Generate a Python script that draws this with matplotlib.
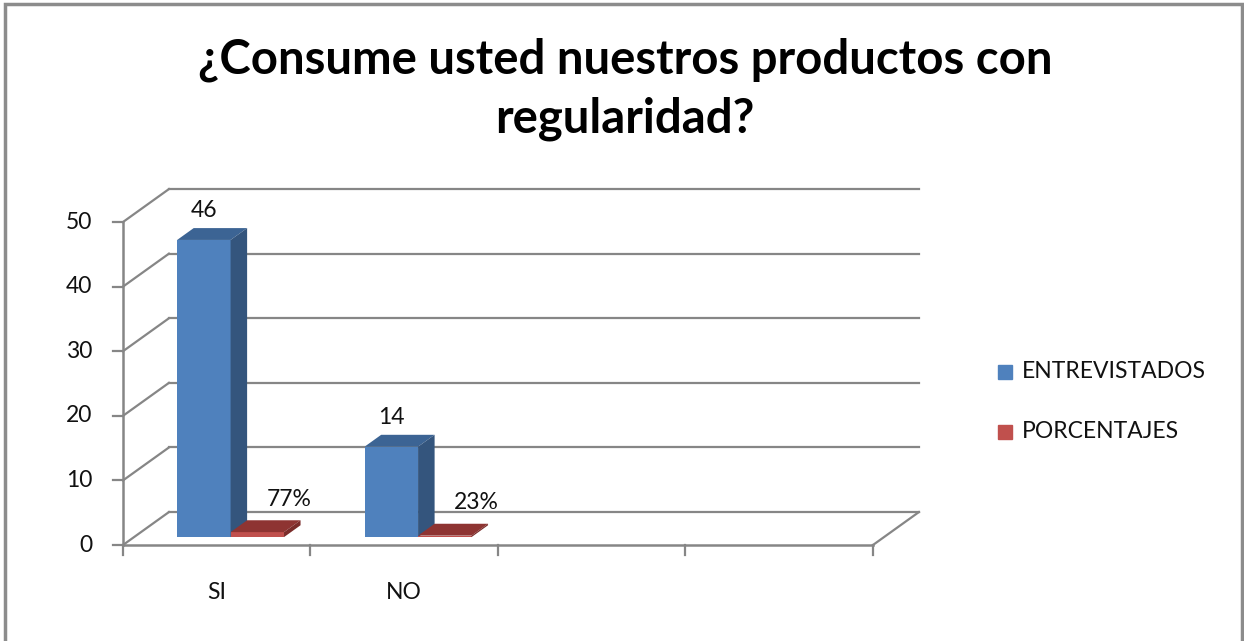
import matplotlib.pyplot as plt
from matplotlib.patches import Polygon, Rectangle

plt.rcParams['font.family'] = ['Lato', 'DejaVu Sans']

categories = ['SI', 'NO', '', '']
entrevistados = [46, 14]
porcentajes = [0.77, 0.23]
pct_labels = ['77%', '23%']
yticks = [0, 10, 20, 30, 40, 50]

# depth of the floor/walls in data units (x, y)
DX, DY = 0.245, 5.1
GRID = '#868686'
TXT = '#111111'
FS = 16.5

fig = plt.figure(figsize=(12.44, 6.41), dpi=100)
ax = fig.add_axes([0, 0, 1, 1])
ax.set_xlim(-0.656, 5.979)
ax.set_ylim(-14.86, 84.37)
ax.axis('off')

ncat = len(categories)

# walls: left side diagonals and back gridlines
for v in yticks:
    ax.plot([0, DX], [v, v + DY], color=GRID, lw=1.6, zorder=1)
    ax.plot([DX, ncat + DX], [v + DY, v + DY], color=GRID, lw=1.6, zorder=1)
    ax.plot([-0.055, 0], [v, v], color=GRID, lw=1.6, zorder=1)
    ax.text(-0.165, v, str(v), ha='right', va='center', fontsize=FS, color=TXT)

# floor and axes
ax.plot([0, 0], [0, yticks[-1]], color=GRID, lw=1.8, zorder=1)
ax.plot([0, ncat], [0, 0], color=GRID, lw=1.8, zorder=1)
ax.plot([ncat, ncat + DX], [0, DY], color=GRID, lw=1.6, zorder=1)
for i in range(ncat + 1):
    ax.plot([i, i], [0, -1.5], color=GRID, lw=1.6, zorder=1)
for i, c in enumerate(categories):
    ax.text(i + 0.5, -7.3, c, ha='center', va='center', fontsize=FS, color=TXT)


def bar3d(x0, w, h, front, top, side):
    f0, bd = 0.24, 0.36
    xl, yb = x0 + f0 * DX, f0 * DY
    ddx, ddy = bd * DX, bd * DY
    ax.bar(xl, h, width=w, bottom=yb, align='edge', color=front, lw=0, zorder=3)
    ax.add_patch(Polygon([(xl, yb + h), (xl + w, yb + h), (xl + w + ddx, yb + h + ddy),
                          (xl + ddx, yb + h + ddy)], closed=True, color=top, lw=0, zorder=3))
    ax.add_patch(Polygon([(xl + w, yb), (xl + w, yb + h), (xl + w + ddx, yb + h + ddy),
                          (xl + w + ddx, yb + ddy)], closed=True, color=side, lw=0, zorder=3))
    return xl + w / 2, yb + h


w = 0.285
for i, v in enumerate(entrevistados):
    cx, ty = bar3d(i + 0.23, w, v, '#4F81BD', '#3C6494', '#34557D')
    ax.text(cx, ty + 4.5, str(v), ha='center', va='center', fontsize=FS, color=TXT)
for i, v in enumerate(porcentajes):
    cx, ty = bar3d(i + 0.515, w, v, '#C0504D', '#8E3432', '#7A2C2A')
    ax.text(cx + 0.17, ty + 5.1, pct_labels[i], ha='center', va='center', fontsize=FS,
            color=TXT)

# legend
leg = [('ENTREVISTADOS', '#4F81BD'), ('PORCENTAJES', '#C0504D')]
for k, (name, col) in enumerate(leg):
    yc = 1 - (372 + 60 * k) / 641
    fig.patches.append(Rectangle((998 / 1244, yc - 7 / 641), 14 / 1244, 14 / 641,
                                 transform=fig.transFigure, color=col))
    fig.text(1022 / 1244, yc, name, ha='left', va='center', fontsize=FS, color=TXT)

# title
fig.text(625 / 1244, 1 - 60 / 641, '¿Consume usted nuestros productos con', ha='center',
         va='center', fontsize=34, fontweight='bold', color='black')
fig.text(625 / 1244, 1 - 119 / 641, 'regularidad?', ha='center', va='center',
         fontsize=34, fontweight='bold', color='black')

# chart border
fig.patches.append(Rectangle((5 / 1244, -0.05), 1237 / 1244, 1.05 - 4 / 641,
                             transform=fig.transFigure, fill=False, ec='#8C8C8C', lw=2.5))

fig.savefig('out.png', dpi=100, facecolor='white')
